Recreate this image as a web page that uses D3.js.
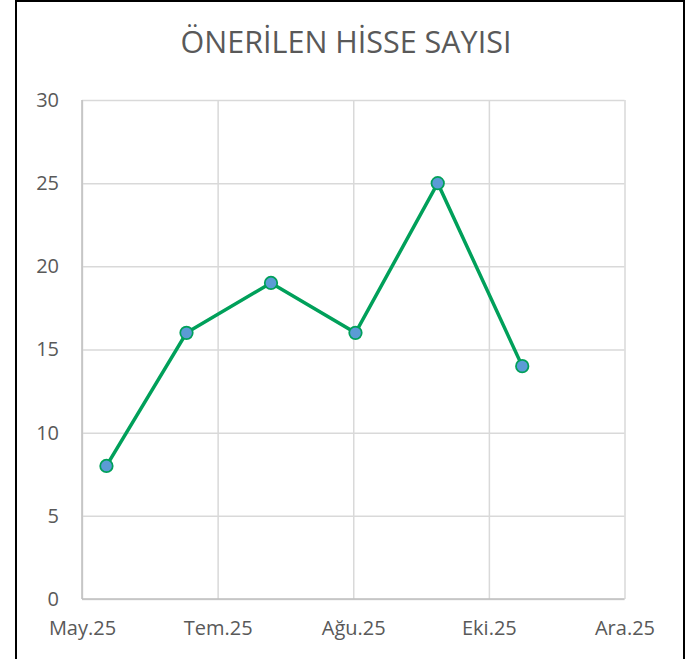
<!DOCTYPE html>
<html>
<head>
<meta charset="utf-8">
<script src="https://cdn.jsdelivr.net/npm/d3@7"></script>
<style>
  body { margin: 0; background: #fff; }
  svg { display: block; }
  .tick text { font-family: "Open Sans", sans-serif; font-size: 20px; fill: #595959; }
  .grid line { stroke: #d9d9d9; stroke-width: 1.5; }
</style>
</head>
<body>
<svg id="chart"></svg>
<script>
var title = "ÖNERİLEN HİSSE SAYISI";
var dates = ["2025-05-12", "2025-06-17", "2025-07-25", "2025-09-01", "2025-10-08", "2025-11-15"];
var values = [8, 16, 19, 16, 25, 14];
var tickDates = ["2025-05-01", "2025-07-01", "2025-08-31", "2025-10-31", "2025-12-31"];
var tickLabels = ["May.25", "Tem.25", "Ağu.25", "Eki.25", "Ara.25"];
var yTicks = [0, 5, 10, 15, 20, 25, 30];

var W = 686, H = 659;
var margin = {top: 100, right: 61.5, bottom: 60, left: 82},
    width = W - margin.left - margin.right,
    height = H - margin.top - margin.bottom;

var parse = d3.utcParse("%Y-%m-%d");
var data = dates.map(function(d, i) { return {date: parse(d), value: values[i]}; });
var ticks = tickDates.map(parse);

var svg = d3.select("#chart").attr("width", W).attr("height", H);

// outer frame
svg.append("rect")
    .attr("x", 16).attr("y", 1)
    .attr("width", 668).attr("height", H + 10)
    .attr("fill", "none").attr("stroke", "#000").attr("stroke-width", 2);

svg.append("text")
    .attr("x", 346).attr("y", 53)
    .attr("text-anchor", "middle")
    .attr("font-family", "Open Sans, sans-serif")
    .attr("font-size", 30.5)
    .attr("fill", "#595959")
    .text(title);

var g = svg.append("g")
    .attr("transform", "translate(" + margin.left + "," + margin.top + ")");

var x = d3.scaleUtc().domain([ticks[0], ticks[ticks.length - 1]]).range([0, width]);
var y = d3.scaleLinear().domain([0, 30]).range([height, 0]);

// horizontal grid
g.append("g").attr("class", "grid")
    .call(d3.axisLeft(y).tickValues(yTicks).tickSize(-width).tickFormat(""))
    .call(function(s) { s.select(".domain").remove(); });

// vertical grid
g.append("g").attr("class", "grid")
    .attr("transform", "translate(0," + height + ")")
    .call(d3.axisBottom(x).tickValues(ticks).tickSize(-height).tickFormat(""))
    .call(function(s) { s.select(".domain").remove(); });

// axis lines
g.append("line").attr("x1", 0).attr("x2", 0).attr("y1", 0).attr("y2", height)
    .attr("stroke", "#bfbfbf").attr("stroke-width", 1.5);
g.append("line").attr("x1", 0).attr("x2", width).attr("y1", height).attr("y2", height)
    .attr("stroke", "#bfbfbf").attr("stroke-width", 1.5);

// y labels
g.append("g")
    .call(d3.axisLeft(y).tickValues(yTicks).tickSize(0).tickPadding(23))
    .call(function(s) { s.select(".domain").remove(); });

// x labels
g.append("g")
    .attr("transform", "translate(0," + height + ")")
    .call(d3.axisBottom(x).tickValues(ticks).tickSize(0).tickPadding(22)
        .tickFormat(function(d, i) { return tickLabels[i]; }))
    .call(function(s) { s.select(".domain").remove(); });

var line = d3.line()
    .x(function(d) { return x(d.date); })
    .y(function(d) { return y(d.value); });

g.append("path")
    .datum(data)
    .attr("fill", "none")
    .attr("stroke", "#00a05a")
    .attr("stroke-width", 3.5)
    .attr("d", line);

g.selectAll(".dot")
    .data(data)
    .enter().append("circle")
    .attr("class", "dot")
    .attr("cx", function(d) { return x(d.date); })
    .attr("cy", function(d) { return y(d.value); })
    .attr("r", 6.25)
    .attr("fill", "#5b9bd5")
    .attr("stroke", "#00a05a")
    .attr("stroke-width", 1.75);
</script>
</body>
</html>
